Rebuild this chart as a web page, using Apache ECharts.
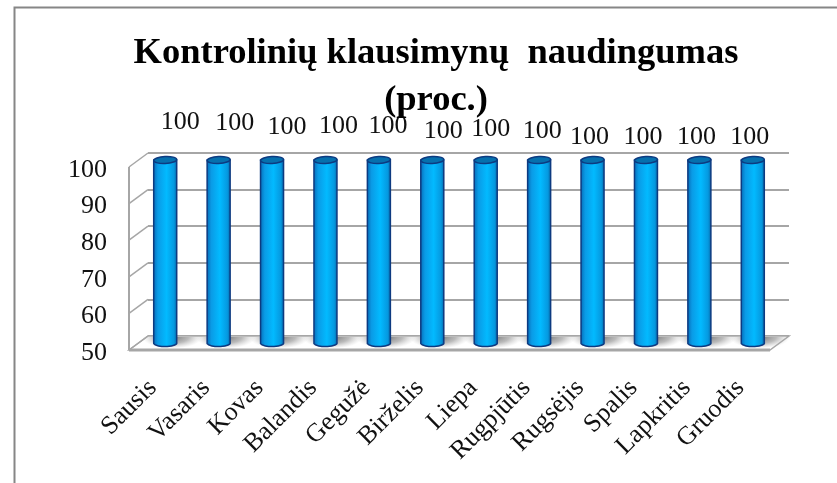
<!DOCTYPE html>
<html>
<head>
<meta charset="utf-8">
<style>
  html, body { margin: 0; background: #fff; }
  #chart { width: 837px; height: 483px; }
</style>
</head>
<body>
<div id="chart"></div>
<script src="https://cdn.jsdelivr.net/npm/echarts@6/dist/echarts.min.js"></script>
<script>
const titleLines = ['Kontrolinių klausimynų  naudingumas', '(proc.)']
const categories = ['Sausis', 'Vasaris', 'Kovas', 'Balandis', 'Gegužė', 'Birželis', 'Liepa', 'Rugpjūtis', 'Rugsėjis', 'Spalis', 'Lapkritis', 'Gruodis']
const values = [100, 100, 100, 100, 100, 100, 100, 100, 100, 100, 100, 100]
const yMin = 50
const yMax = 100
const yStep = 10
const yTicks = [50, 60, 70, 80, 90, 100]

// the labels were dragged by hand in the original, so they don't sit on a line
const labelDx = [15, 16, 15, 13, 9, 11, 5, 3, -3, -3, -3, -3]
const labelY = [122, 123, 127, 126, 126, 131, 129, 131, 137, 137, 137, 137]

const font = '"Liberation Serif", "Times New Roman", serif'
const wallColor = '#a6a6a6'
const depthX = 9.5
const depthY = 7

const chart = echarts.init(document.getElementById('chart'))

const valueAxis = (gridIndex, extra) => ({
  type: 'value',
  gridIndex,
  min: yMin,
  max: yMax,
  interval: yStep,
  axisLine: { show: false },
  axisTick: { show: false },
  axisLabel: { show: false },
  splitLine: { show: false },
  ...extra,
})

const categoryAxis = (gridIndex, extra) => ({
  type: 'category',
  gridIndex,
  data: categories,
  axisLine: { show: false },
  axisTick: { show: false },
  axisLabel: { show: false },
  ...extra,
})

// left wall and floor, drawn on the middle grid so they follow the value scale
const renderWalls = (params, api) => {
  const value = api.value(0)
  const band = api.size([1, 0])[0]
  const [cx, y] = api.coord([0, value])
  const left = cx - band / 2
  const right = left + band * categories.length
  const children = [{
    type: 'line',
    shape: { x1: left - depthX, y1: y + depthY, x2: left + depthX, y2: y - depthY },
    style: { stroke: wallColor, lineWidth: 1.5 },
  }]
  if (value === yMin) {
    const top = api.coord([0, yMax])[1]
    children.unshift({
      type: 'polygon',
      shape: { points: [[left - depthX, y + depthY], [left + depthX, y - depthY], [right + depthX, y - depthY], [right - depthX, y + depthY]] },
      style: { fill: '#fff', stroke: wallColor, lineWidth: 1.5 },
    })
    children.push({
      type: 'line',
      shape: { x1: left - depthX, y1: top + depthY, x2: left - depthX, y2: y + depthY },
      style: { stroke: wallColor, lineWidth: 2 },
    }, {
      type: 'line',
      shape: { x1: left - depthX, y1: y + depthY, x2: right - depthX, y2: y + depthY },
      style: { stroke: wallColor, lineWidth: 3 },
    })
  }
  return { type: 'group', children }
}

// soft shadow on the floor behind each column; a radial gradient is always
// round, so it is stretched sideways with scaleX
const renderShadow = (params, api) => {
  const [cx, y] = api.coord([api.value(0), yMin])
  return {
    type: 'rect',
    x: cx + 7,
    y: y - depthY + 1,
    scaleX: 2.6,
    shape: { x: -12, y: 0, width: 24, height: 11 },
    style: {
      fill: new echarts.graphic.RadialGradient(0.5, 0, 1.05, [
        { offset: 0, color: 'rgba(110,110,110,0.95)' },
        { offset: 0.55, color: 'rgba(150,150,150,0.65)' },
        { offset: 1, color: 'rgba(190,190,190,0)' },
      ]),
    },
  }
}

const renderCylinder = (params, api) => {
  const idx = api.value(0)
  const [cx, top] = api.coord([idx, api.value(1)])
  const [, bottom] = api.coord([idx, yMin])
  const rx = 11.5
  const ry = 3.5
  const edge = '#0d3a80'
  return {
    type: 'group',
    children: [{
      type: 'path',
      shape: {
        pathData: `M ${cx - rx} ${top} L ${cx - rx} ${bottom + 0.6} A ${rx} ${ry} 0 0 0 ${cx + rx} ${bottom - 0.6} L ${cx + rx} ${top} Z`,
      },
      style: {
        fill: new echarts.graphic.LinearGradient(0, 0, 1, 0, [
          { offset: 0, color: '#0668b4' },
          { offset: 0.2, color: '#0a9be6' },
          { offset: 0.55, color: '#02baff' },
          { offset: 0.85, color: '#0599e0' },
          { offset: 1, color: '#065f9e' },
        ]),
        stroke: edge,
        lineWidth: 1.5,
      },
    }, {
      type: 'ellipse',
      shape: { cx, cy: top, rx, ry },
      rotation: 0.05,
      originX: cx,
      originY: top,
      style: { fill: '#0670ad', stroke: edge, lineWidth: 1.5 },
    }],
  }
}

const renderLabel = (params, api) => {
  const idx = api.value(0)
  const [cx] = api.coord([idx, api.value(1)])
  return {
    type: 'text',
    style: {
      x: cx + labelDx[idx],
      y: labelY[idx],
      text: String(api.value(1)),
      align: 'center',
      verticalAlign: 'middle',
      font: `26px ${font}`,
      fill: '#111',
    },
  }
}

const option = {
  animation: false,
  backgroundColor: '#fff',
  title: [
    { text: titleLines[0], left: 431, top: 30, textAlign: 'center', textStyle: { fontFamily: font, fontSize: 36.5, fontWeight: 'bold', color: '#000' } },
    { text: titleLines[1], left: 431, top: 77, textAlign: 'center', textStyle: { fontFamily: font, fontSize: 36.5, fontWeight: 'bold', color: '#000' } },
  ],
  grid: [
    // labels only, nudged a little off the front edge of the wall and floor
    { left: 126, width: 641, top: 170, height: 183 },
    // back wall: carries the gridlines
    { left: 148, width: 641, top: 153, height: 183 },
    // middle: the columns stand here
    { left: 138.5, width: 641, top: 160, height: 183 },
  ],
  xAxis: [
    categoryAxis(0, {
      axisLabel: { show: true, rotate: 45, margin: 31, interval: 0, fontFamily: font, fontSize: 26, color: '#111' },
    }),
    categoryAxis(1),
    categoryAxis(2),
  ],
  yAxis: [
    valueAxis(0, {
      axisLabel: { show: true, margin: 19, fontFamily: font, fontSize: 26, color: '#111' },
    }),
    valueAxis(1, {
      splitLine: { show: true, lineStyle: { color: wallColor, width: 2 } },
    }),
    valueAxis(2),
  ],
  series: [
    {
      type: 'custom',
      xAxisIndex: 2,
      yAxisIndex: 2,
      renderItem: renderWalls,
      encode: { y: 0 },
      data: yTicks.map((v) => [v]),
      silent: true,
      clip: false,
      z: 1,
    },
    {
      type: 'custom',
      xAxisIndex: 2,
      yAxisIndex: 2,
      renderItem: renderShadow,
      encode: { x: 0 },
      data: categories.map((c, i) => [i]),
      silent: true,
      z: 2,
    },
    {
      type: 'custom',
      xAxisIndex: 2,
      yAxisIndex: 2,
      renderItem: renderCylinder,
      encode: { x: 0, y: 1 },
      data: values.map((v, i) => [i, v]),
      z: 3,
    },
    {
      type: 'custom',
      xAxisIndex: 2,
      yAxisIndex: 2,
      renderItem: renderLabel,
      encode: { x: 0, y: 1 },
      data: values.map((v, i) => [i, v]),
      z: 4,
    },
  ],
  graphic: [
    // chart area border, only top and left fall inside the picture
    { type: 'polyline', z: 10, shape: { points: [[14.5, 483], [14.5, 7.5], [837, 7.5]] }, style: { stroke: '#868686', lineWidth: 2, fill: null } },
  ],
}

chart.setOption(option)
</script>
</body>
</html>
